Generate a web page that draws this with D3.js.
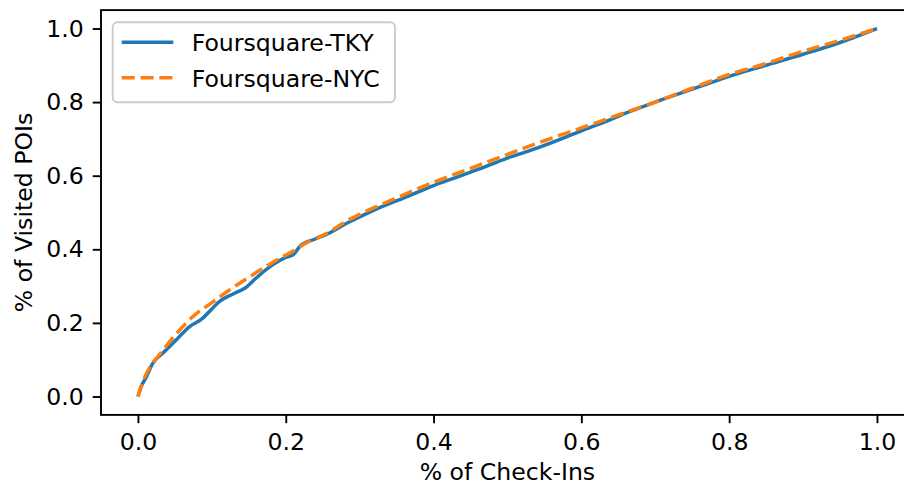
<!DOCTYPE html>
<meta charset='utf-8'>
<style>
body { margin: 0; background: #fff; }
svg { display: block; }
text { font-family: 'DejaVu Sans', sans-serif; fill: #000; }
.axis path, .axis line { stroke: #000; stroke-width: 1.9px; }
.line { fill: none; stroke-width: 3.5px; }
</style>
<svg width='904' height='485'></svg>
<script src="https://cdn.jsdelivr.net/npm/d3@7"></script>
<script>

const tkyX = [0, 0.005, 0.01, 0.02, 0.035, 0.05, 0.07, 0.086, 0.1, 0.11, 0.13, 0.145, 0.16, 0.18, 0.2, 0.21, 0.22, 0.24, 0.26, 0.28, 0.3, 0.33, 0.36, 0.4, 0.43, 0.46, 0.5, 0.53, 0.56, 0.6, 0.63, 0.66, 0.7, 0.75, 0.8, 0.85, 0.9, 0.95, 1.0];
const tkyY = [0, 0.03, 0.048, 0.09, 0.12, 0.15, 0.19, 0.21, 0.238, 0.258, 0.28, 0.295, 0.322, 0.355, 0.378, 0.385, 0.41, 0.428, 0.445, 0.468, 0.488, 0.516, 0.54, 0.573, 0.595, 0.617, 0.648, 0.668, 0.69, 0.722, 0.745, 0.77, 0.80, 0.835, 0.87, 0.90, 0.93, 0.962, 1.0];

const nycX = [0, 0.005, 0.014, 0.03, 0.05, 0.077, 0.1, 0.127, 0.154, 0.181, 0.208, 0.23, 0.258, 0.28, 0.3, 0.35, 0.4, 0.45, 0.5, 0.55, 0.6, 0.65, 0.7, 0.75, 0.8, 0.85, 0.9, 0.95, 1.0];
const nycY = [0, 0.032, 0.072, 0.116, 0.166, 0.222, 0.255, 0.294, 0.329, 0.363, 0.393, 0.42, 0.446, 0.474, 0.495, 0.54, 0.582, 0.62, 0.658, 0.695, 0.73, 0.765, 0.8, 0.838, 0.875, 0.905, 0.938, 0.968, 1.0];

const ticks = [0, 0.2, 0.4, 0.6, 0.8, 1.0];
const seriesNames = ['Foursquare-TKY', 'Foursquare-NYC'];
const seriesColors = ['#1f77b4', '#ff7f0e'];

const fs = 23.6;
const dash = '13.1,5.7';
const x = d3.scaleLinear().domain([-0.05, 1.05]).range([101, 101 + 1.1 * 739]);
const y = d3.scaleLinear().domain([-0.05, 1.05]).range([414.9, 10.1]);

const svg = d3.select('svg');

const line = d3.line()
  .x(d => x(d[0]))
  .y(d => y(d[1]))
  .curve(d3.curveMonotoneX);

const gLines = svg.append('g');

gLines.append('path')
  .attr('class', 'line')
  .attr('stroke', seriesColors[0])
  .attr('d', line(d3.zip(tkyX, tkyY)));

gLines.append('path')
  .attr('class', 'line')
  .attr('stroke', seriesColors[1])
  .attr('stroke-dasharray', dash)
  .attr('d', line(d3.zip(nycX, nycY)));

// axes
svg.append('g')
  .attr('class', 'axis')
  .attr('transform', 'translate(0,' + y.range()[0] + ')')
  .call(d3.axisBottom(x).tickValues(ticks).tickFormat(d3.format('.1f')).tickSize(8.3).tickPadding(10.5).tickSizeOuter(0));

svg.append('g')
  .attr('class', 'axis')
  .attr('transform', 'translate(' + x.range()[0] + ',0)')
  .call(d3.axisLeft(y).tickValues(ticks).tickFormat(d3.format('.1f')).tickSize(8.3).tickPadding(9).tickSizeOuter(0));

svg.selectAll('.axis text').style('font-size', fs + 'px');
svg.selectAll('.axis .domain').remove();

// spines
svg.append('rect')
  .attr('x', x.range()[0]).attr('y', y.range()[1])
  .attr('width', x.range()[1] - x.range()[0])
  .attr('height', y.range()[0] - y.range()[1])
  .attr('fill', 'none')
  .attr('stroke', '#000')
  .attr('stroke-width', 1.9);

svg.append('text')
  .attr('x', x(0.5))
  .attr('y', 480)
  .attr('text-anchor', 'middle')
  .style('font-size', fs + 'px')
  .text('% of Check-Ins');

svg.append('text')
  .attr('transform', 'translate(32,' + y(0.5) + ') rotate(-90)')
  .attr('text-anchor', 'middle')
  .style('font-size', fs + 'px')
  .text('% of Visited POIs');

// legend
const legend = svg.append('g');
legend.append('rect')
  .attr('x', 112.7).attr('y', 22.3)
  .attr('width', 282.3).attr('height', 80)
  .attr('rx', 5)
  .attr('fill', '#fff').attr('fill-opacity', 0.8)
  .attr('stroke', '#ccc').attr('stroke-width', 1.9);

seriesNames.forEach((name, i) => {
  const ly = 42.3 + i * 35.4;
  legend.append('line')
    .attr('x1', 121.7).attr('x2', 173.3)
    .attr('y1', ly).attr('y2', ly)
    .attr('stroke', seriesColors[i])
    .attr('stroke-width', 3.5)
    .attr('stroke-dasharray', i === 1 ? dash : null);
  legend.append('text')
    .attr('x', 191.7).attr('y', ly)
    .attr('dy', '0.38em')
    .style('font-size', fs + 'px')
    .text(name);
});

</script>
